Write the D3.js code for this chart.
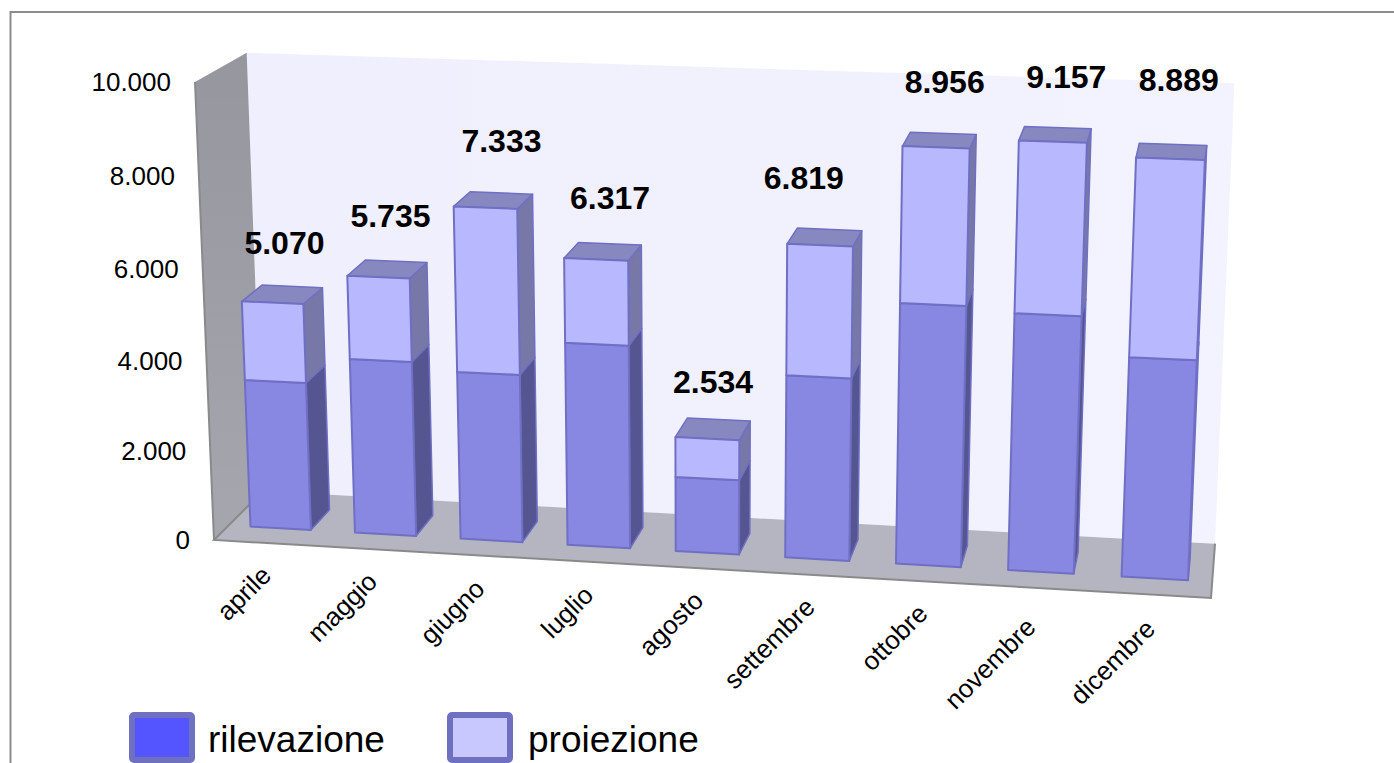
<!DOCTYPE html>
<html><head><meta charset="utf-8">
<script src="https://cdn.jsdelivr.net/npm/d3@7"></script>
<style>html,body{margin:0;padding:0;background:#fff;overflow:hidden}svg{display:block}text{font-family:"Liberation Sans",Arial,sans-serif;fill:#000}</style>
</head><body><svg id="c" width="1394" height="763"></svg>
<script>
const categories = ["aprile","maggio","giugno","luglio","agosto","settembre","ottobre","novembre","dicembre"];
const rilevazione = [3320,3900,3730,4480,1650,4000,5660,5550,4730];
const proiezione  = [1750,1835,3603,1837,884,2819,3296,3607,4159];
const totali      = [5070,5735,7333,6317,2534,6819,8956,9157,8889];
const yTicks = [0,2000,4000,6000,8000,10000];

// layout: perspective box of the 3D chart (screen corners and vanishing points)
const O = [214,540], PX = [1211,598], PY = [195,82], PZ = [263,491];
const VX = -17740, VYy = 12500, VZy = -541;
const a = (PX[0]-O[0])/(VX-PX[0]), b = (PY[1]-O[1])/(VYy-PY[1]), c = (PZ[1]-O[1])/(VZy-PZ[1]);
const U = [(1+a)*PX[0]-O[0],(1+a)*PX[1]-O[1]],
      V = [(1+b)*PY[0]-O[0],(1+b)*PY[1]-O[1]],
      Z = [(1+c)*PZ[0]-O[0],(1+c)*PZ[1]-O[1]];
const proj = (u,v,z)=>{const w=1+a*u+b*v+c*z;
  return [(O[0]+u*U[0]+v*V[0]+z*Z[0])/w,(O[1]+u*U[1]+v*V[1]+z*Z[1])/w];};

const x = d3.scaleBand().domain(categories).range([0,1]).paddingInner(0.42).paddingOuter(0.21);
const y = d3.scaleLinear().domain([0,10000]).range([0,1]);
const zFront = 0.29, zBack = 0.70;
const fmt = d3.formatLocale({decimal:",",thousands:".",grouping:[3],currency:["","€"]}).format(",d");

const svg = d3.select("#c");
const defs = svg.append("defs");
const grad = defs.append("linearGradient").attr("id","sw").attr("x1",0).attr("y1",0).attr("x2",0).attr("y2",1);
grad.append("stop").attr("offset",0).attr("stop-color","#96969e");
grad.append("stop").attr("offset",1).attr("stop-color","#a6a6ae");
const wg = defs.append("linearGradient").attr("id","bw").attr("x1",0).attr("y1",0).attr("x2",1).attr("y2",0);
wg.append("stop").attr("offset",0).attr("stop-color","#efeffd");
wg.append("stop").attr("offset",1).attr("stop-color","#f3f3ff");

const poly = (pts,fill,stroke,sw)=>svg.append("polygon")
  .attr("points",pts.map(p=>p.map(n=>n.toFixed(2)).join(",")).join(" "))
  .attr("fill",fill).attr("stroke",stroke||"none").attr("stroke-width",sw||0).attr("stroke-linejoin","round");

// frame
svg.append("path").attr("d","M10.5 763V12H1394").attr("fill","none").attr("stroke","#8c8c8c").attr("stroke-width",2);

// walls and floor
poly([proj(0,0,1),proj(1,0,1),proj(1,1,1),proj(0,1,1)],"url(#bw)");
poly([proj(0,0,0),proj(0,0,1),proj(0,1,1),proj(0,1,0)],"url(#sw)");
svg.append("path").attr("d",d3.line()([proj(0,1,0),proj(0,0,0)])).attr("stroke","#8a8a8a").attr("stroke-width",2).attr("fill","none");
poly([proj(0,0,0),proj(1,0,0),proj(1,0,1),proj(0,0,1)],"#b5b5c1");
svg.append("path").attr("d",d3.line()([proj(0,0,1),proj(0,0,0),proj(1,0,0),proj(1,0,1)])).attr("stroke","#8a8a8a").attr("stroke-width",2).attr("fill","none");

// bars
const edge = "#6f6fc4";
categories.forEach((cat,i)=>{
  const u0=x(cat), u1=u0+x.bandwidth();
  const v0=0, v1=y(rilevazione[i]), v2=y(rilevazione[i]+proiezione[i]);
  const front=(a0,a1)=>[proj(u0,a0,zFront),proj(u1,a0,zFront),proj(u1,a1,zFront),proj(u0,a1,zFront)];
  const side=(a0,a1)=>[proj(u1,a0,zFront),proj(u1,a0,zBack),proj(u1,a1,zBack),proj(u1,a1,zFront)];
  poly(side(v0,v1),"#555592",edge,1.5);
  poly(side(v1,v2),"#7878a8",edge,1.5);
  poly([proj(u0,v2,zFront),proj(u1,v2,zFront),proj(u1,v2,zBack),proj(u0,v2,zBack)],"#8888c0",edge,1.5);
  poly(front(v0,v1),"#8888e2",edge,2);
  poly(front(v1,v2),"#b8b8ff",edge,2);
});

// value axis labels
yTicks.forEach(t=>{
  const p=proj(0,y(t),0);
  svg.append("text").attr("x",p[0]-24).attr("y",p[1]+9).attr("text-anchor","end").attr("font-size",26).text(fmt(t));
});

// category labels, nudged by hand
const catDx = [0,0,0,0,0,0,0,-6,-2];
const catDy = [2,2,3,3,2,2,2,9,4];
categories.forEach((cat,i)=>{
  const p=proj(x(cat)+x.bandwidth()/2,0,0);
  svg.append("text").attr("transform",`translate(${p[0]+6+catDx[i]},${p[1]+32+catDy[i]}) rotate(-45)`)
    .attr("text-anchor","end").attr("font-size",26).text(cat);
});

// total labels, placed by hand above each column
const labelDx = [2,3,8,7,0,-21,5,11,7];
const labelDy = [51,53,59,53,47,59,58,58,71];
categories.forEach((cat,i)=>{
  const p=proj(x(cat)+x.bandwidth()/2,y(totali[i]),(zFront+zBack)/2);
  svg.append("text").attr("x",p[0]+labelDx[i]).attr("y",p[1]-labelDy[i]+11).attr("text-anchor","middle")
    .attr("font-size",32).attr("font-weight","bold").text(fmt(totali[i]));
});

// legend
const legend = [["rilevazione","#5555ff",129,208],["proiezione","#c8c8ff",447,528]];
legend.forEach(([t,f,sx,tx])=>{
  svg.append("rect").attr("x",sx+3).attr("y",715).attr("width",60).attr("height",45).attr("rx",2)
    .attr("fill",f).attr("stroke","#7070c0").attr("stroke-width",6);
  svg.append("text").attr("x",tx).attr("y",752).attr("font-size",37).text(t);
});
</script></body></html>
